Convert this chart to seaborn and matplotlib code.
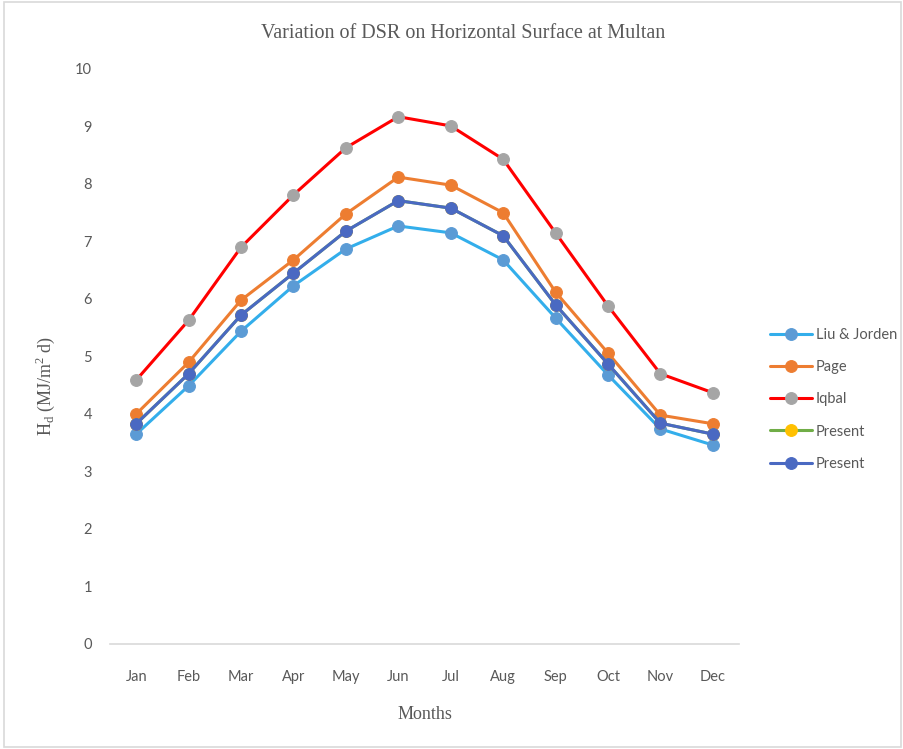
import numpy as np
import pandas as pd
import seaborn as sns
import matplotlib.pyplot as plt
from matplotlib.patches import Rectangle

months = ['Jan', 'Feb', 'Mar', 'Apr', 'May', 'Jun', 'Jul', 'Aug', 'Sep', 'Oct', 'Nov', 'Dec']

liu_jorden = [3.65, 4.49, 5.44, 6.23, 6.87, 7.27, 7.15, 6.68, 5.67, 4.68, 3.74, 3.46]
page = [4.00, 4.90, 5.98, 6.68, 7.48, 8.12, 7.98, 7.50, 6.12, 5.06, 3.98, 3.83]
iqbal = [4.59, 5.63, 6.90, 7.81, 8.63, 9.17, 9.01, 8.43, 7.15, 5.88, 4.70, 4.37]
present_a = [3.83, 4.70, 5.72, 6.45, 7.18, 7.71, 7.58, 7.10, 5.90, 4.87, 3.84, 3.65]
present_b = [3.83, 4.70, 5.72, 6.45, 7.18, 7.71, 7.58, 7.10, 5.90, 4.87, 3.84, 3.65]

# (label, values, line colour, marker colour)
series = [
    ('Liu & Jorden', liu_jorden, '#33AEEB', '#5B9BD5'),
    ('Page', page, '#ED7D31', '#ED7D31'),
    ('Iqbal', iqbal, '#FF0000', '#A5A5A5'),
    ('Present', present_a, '#70AD47', '#FFC000'),
    ('Present', present_b, '#4A69C2', '#4A69C2'),
]

sns.set_style('white')
plt.rcParams['font.family'] = ['Lato', 'DejaVu Sans']
grey_txt = '#595959'

fig = plt.figure(figsize=(9.04, 7.49), dpi=100)
ax = fig.add_axes([0.1217, 0.1402, 0.6958, 0.7677])

x = np.arange(len(months))
for label, vals, lc, mc in series:
    df = pd.DataFrame({'x': x, 'y': vals})
    sns.lineplot(data=df, x='x', y='y', ax=ax, color=lc, linewidth=2.2,
                 marker='o', markersize=8.5, markerfacecolor=mc,
                 markeredgecolor=mc, label=label, sort=False)

ax.set_xlim(-0.5, 11.5)
ax.set_ylim(0, 10)
ax.set_yticks(range(0, 11))
ax.set_xticks(x)
ax.set_xticklabels(months)
ax.tick_params(axis='both', length=0, labelsize=10.5, labelcolor=grey_txt)
ax.tick_params(axis='y', pad=13)
ax.tick_params(axis='x', pad=18.5)

for s in ['top', 'right', 'left']:
    ax.spines[s].set_visible(False)
ax.spines['bottom'].set_color('#D9D9D9')
ax.spines['bottom'].set_linewidth(1.2)

serif = ['Liberation Serif', 'DejaVu Serif']
fig.text(0.512, 1 - 33 / 749, 'Variation of DSR on Horizontal Surface at Multan',
         family=serif, fontsize=14.5, color=grey_txt, ha='center', va='center')
ax.set_xlabel('Months', family=serif, fontsize=13, color=grey_txt, labelpad=16)
ax.set_ylabel(r'H$_\mathregular{d}$ (MJ/m$^\mathregular{2}$ d)', family=serif,
              fontsize=13, color=grey_txt)
ax.yaxis.set_label_coords(-0.085, 0.449)

leg = ax.legend(loc='upper left', bbox_to_anchor=(0.845, 0.57),
                bbox_transform=fig.transFigure, frameon=False, fontsize=10.5,
                handlelength=2.9, handletextpad=0.25, labelspacing=1.25,
                borderaxespad=0)
for t in leg.get_texts():
    t.set_color(grey_txt)

fig.patches.append(Rectangle((0.004, 0.003), 0.993, 0.994, transform=fig.transFigure,
                             fill=False, edgecolor='#D9D9D9', linewidth=1.2))

fig.savefig('out.png', dpi=100)
